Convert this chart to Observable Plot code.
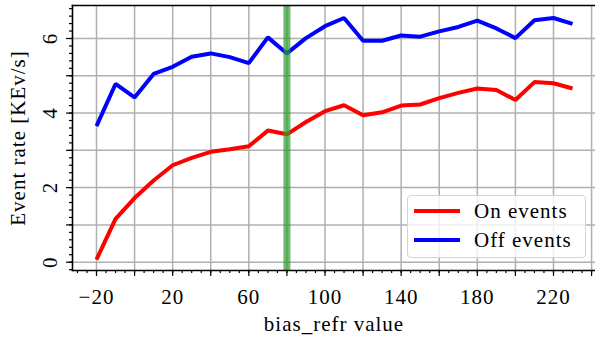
<!DOCTYPE html>
<html>
<head>
<meta charset="utf-8">
<script src="https://cdn.jsdelivr.net/npm/d3@7"></script>
<script src="https://cdn.jsdelivr.net/npm/@observablehq/plot@0.6"></script>
<style>
  html, body { margin: 0; padding: 0; background: #fff; }
  #wrap { position: relative; width: 595px; height: 344px; overflow: hidden; font-family: "Liberation Serif", serif; }
  #legend { position: absolute; left: 407px; top: 195px; width: 177px; height: 61px;
    border: 1.2px solid #d4d4d4; border-radius: 4px; background: rgba(255,255,255,0.8);
    font-family: "Liberation Serif", serif; font-size: 21px; letter-spacing: 1px; color: #000; }
  .item { position: absolute; left: 6px; height: 20px; display: flex; align-items: center; }
  .swatch { width: 46px; height: 4px; margin-right: 14px; }
</style>
</head>
<body>
<div id="wrap"><div id="chart"></div><div id="legend"></div></div>
<script>
// bias_refr values (x)
const biasRefr = [-20, -10, 0, 10, 20, 30, 40, 50, 60, 70, 80, 90, 100, 110, 120, 130, 140, 150, 160, 170, 180, 190, 200, 210, 220, 230];
// Event rates [KEv/s]
const onEvents  = [0.07, 1.16, 1.72, 2.19, 2.60, 2.80, 2.96, 3.03, 3.11, 3.53, 3.43, 3.76, 4.05, 4.21, 3.94, 4.02, 4.20, 4.23, 4.40, 4.54, 4.66, 4.62, 4.35, 4.83, 4.80, 4.66];
const offEvents = [3.65, 4.78, 4.42, 5.05, 5.24, 5.51, 5.60, 5.50, 5.34, 6.03, 5.60, 6.01, 6.33, 6.55, 5.94, 5.94, 6.08, 6.05, 6.19, 6.31, 6.48, 6.27, 6.01, 6.49, 6.55, 6.39];
const seriesNames = ["On events", "Off events"];
const seriesColors = ["#ff0000", "#0000ff"];
const markerValues = [80];
// ticks
const xTickLabels = [-20, 20, 60, 100, 140, 180, 220];
const xMajorTicks = [-20, 0, 20, 40, 60, 80, 100, 120, 140, 160, 180, 200, 220, 240];
const xMinorTicks = d3.range(-30, 241, 5);
const yTickLabels = [0, 2, 4, 6];
const yMajorTicks = [0, 1, 2, 3, 4, 5, 6];
const yMinorTicks = d3.range(-0.2, 6.85, 0.2);

const rows = [];
biasRefr.forEach((b, i) => {
  rows.push({x: b, y: onEvents[i], s: seriesNames[0]});
  rows.push({x: b, y: offEvents[i], s: seriesNames[1]});
});

const chart = Plot.plot({
  width: 595,
  height: 344,
  marginLeft: 72,
  marginRight: 0,
  marginTop: 5,
  marginBottom: 74,
  style: {fontFamily: "'Liberation Serif', serif", fontSize: "21px", letterSpacing: "1px", color: "#000", background: "#fff"},
  x: {domain: [-32.6, 242.06]},
  y: {domain: [-0.223, 6.885]},
  color: {domain: seriesNames, range: seriesColors},
  marks: [
    Plot.gridX(xMajorTicks, {stroke: "#b0b0b0", strokeOpacity: 1, strokeWidth: 1.5}),
    Plot.gridY(yMajorTicks, {stroke: "#b0b0b0", strokeOpacity: 1, strokeWidth: 1.5}),
    Plot.lineY(rows, {x: "x", y: "y", stroke: "s", z: "s", strokeWidth: 4, strokeLinejoin: "miter", strokeLinecap: "butt"}),
    Plot.ruleX(markerValues, {stroke: "#2ca02c", strokeOpacity: 0.7, strokeWidth: 7}),
    Plot.axisX(xMinorTicks, {tickSize: 3, text: null, strokeWidth: 1.2, label: null}),
    Plot.axisX(xMajorTicks, {tickSize: 6, text: null, strokeWidth: 1.2, label: null}),
    Plot.axisX(xTickLabels, {tickSize: 0, tickPadding: 19, fontFamily: "Liberation Serif", label: "bias_refr value", labelAnchor: "center", labelOffset: 60, labelArrow: "none"}),
    Plot.axisY(yMinorTicks, {tickSize: 3, text: null, strokeWidth: 1.2, label: null}),
    Plot.axisY(yMajorTicks, {tickSize: 6, text: null, strokeWidth: 1.2, label: null}),
    Plot.axisY(yTickLabels, {tickSize: 0, tickPadding: 22, rotate: -90, textAnchor: "middle", fontFamily: "Liberation Serif", label: "Event rate [KEv/s]", labelAnchor: "center", labelOffset: 62, labelArrow: "none"}),
    Plot.frame({anchor: "left", strokeWidth: 1.6}),
    Plot.frame({anchor: "top", strokeWidth: 1.6}),
    Plot.frame({anchor: "bottom", strokeWidth: 1.6})
  ]
});
document.getElementById("chart").appendChild(chart);

const legend = document.getElementById("legend");
seriesNames.forEach((name, i) => {
  const item = document.createElement("div");
  item.className = "item";
  item.style.top = (5 + i * 29) + "px";
  const sw = document.createElement("div");
  sw.className = "swatch";
  sw.style.background = seriesColors[i];
  const t = document.createElement("span");
  t.textContent = name;
  item.appendChild(sw);
  item.appendChild(t);
  legend.appendChild(item);
});
</script>
</body>
</html>
